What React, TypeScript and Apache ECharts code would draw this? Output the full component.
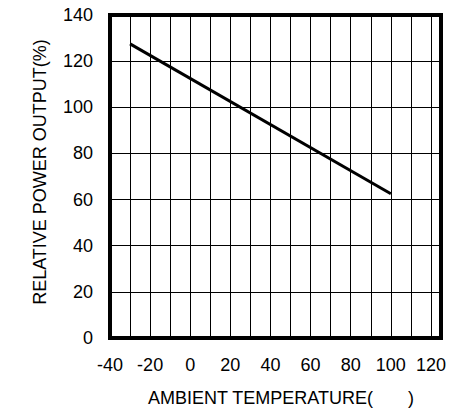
import React, { useEffect, useRef } from "react";
import * as echarts from "echarts";

const temperature: number[] = [-30, 100];
const relativePower: number[] = [127.5, 62.5];
const xTickLabels: number[] = [-40, -20, 0, 20, 40, 60, 80, 100, 120];
const yTickLabels: number[] = [0, 20, 40, 60, 80, 100, 120, 140];
const xTitle = "AMBIENT TEMPERATURE(       )";
const yTitle = "RELATIVE POWER OUTPUT(%)";

export default function App() {
  const ref = useRef<HTMLDivElement>(null);
  useEffect(() => {
    if (!ref.current) return;
    const chart = echarts.init(ref.current, undefined, { renderer: "svg" });
    const font = "'Liberation Sans', Arial, sans-serif";
    chart.setOption({
      animation: false,
      backgroundColor: "#fff",
      grid: {
        left: 110,
        top: 15,
        right: 13,
        bottom: 72,
        show: true,
        borderColor: "#000",
        borderWidth: 4,
        z: 3,
      },
      xAxis: {
        type: "value",
        min: -40,
        max: 125,
        interval: 10,
        axisLine: { show: false },
        axisTick: { show: false },
        axisLabel: {
          color: "#000",
          fontSize: 18,
          fontFamily: font,
          margin: 18,
          showMaxLabel: false,
          formatter: (v: number) => (xTickLabels.includes(v) ? String(v) : ""),
        },
        splitLine: { show: true, lineStyle: { color: "#000", width: 1 } },
      },
      yAxis: {
        type: "value",
        min: 0,
        max: 140,
        interval: 20,
        axisLine: { show: false },
        axisTick: { show: false },
        axisLabel: {
          color: "#000",
          fontSize: 18,
          fontFamily: font,
          margin: 17,
          formatter: (v: number) => (yTickLabels.includes(v) ? String(v) : ""),
        },
        splitLine: { show: true, lineStyle: { color: "#000", width: 1 } },
      },
      graphic: [
        {
          type: "text",
          x: 40,
          y: 172,
          rotation: Math.PI / 2,
          style: {
            text: yTitle,
            fill: "#000",
            fontSize: 18,
            fontFamily: font,
            align: "center",
            verticalAlign: "middle",
          },
        },
        {
          type: "text",
          x: 148,
          y: 398,
          style: {
            text: xTitle,
            fill: "#000",
            fontSize: 18,
            fontFamily: font,
            align: "left",
            verticalAlign: "middle",
          },
        },
      ],
      series: [
        {
          type: "line",
          data: temperature.map((t, i) => [t, relativePower[i]]),
          symbol: "none",
          lineStyle: { color: "#000", width: 3 },
          z: 4,
        },
      ],
    });
    return () => chart.dispose();
  }, []);
  return (
    <div
      ref={ref}
      style={{ position: "fixed", left: 0, top: 0, width: 454, height: 410 }}
    />
  );
}
